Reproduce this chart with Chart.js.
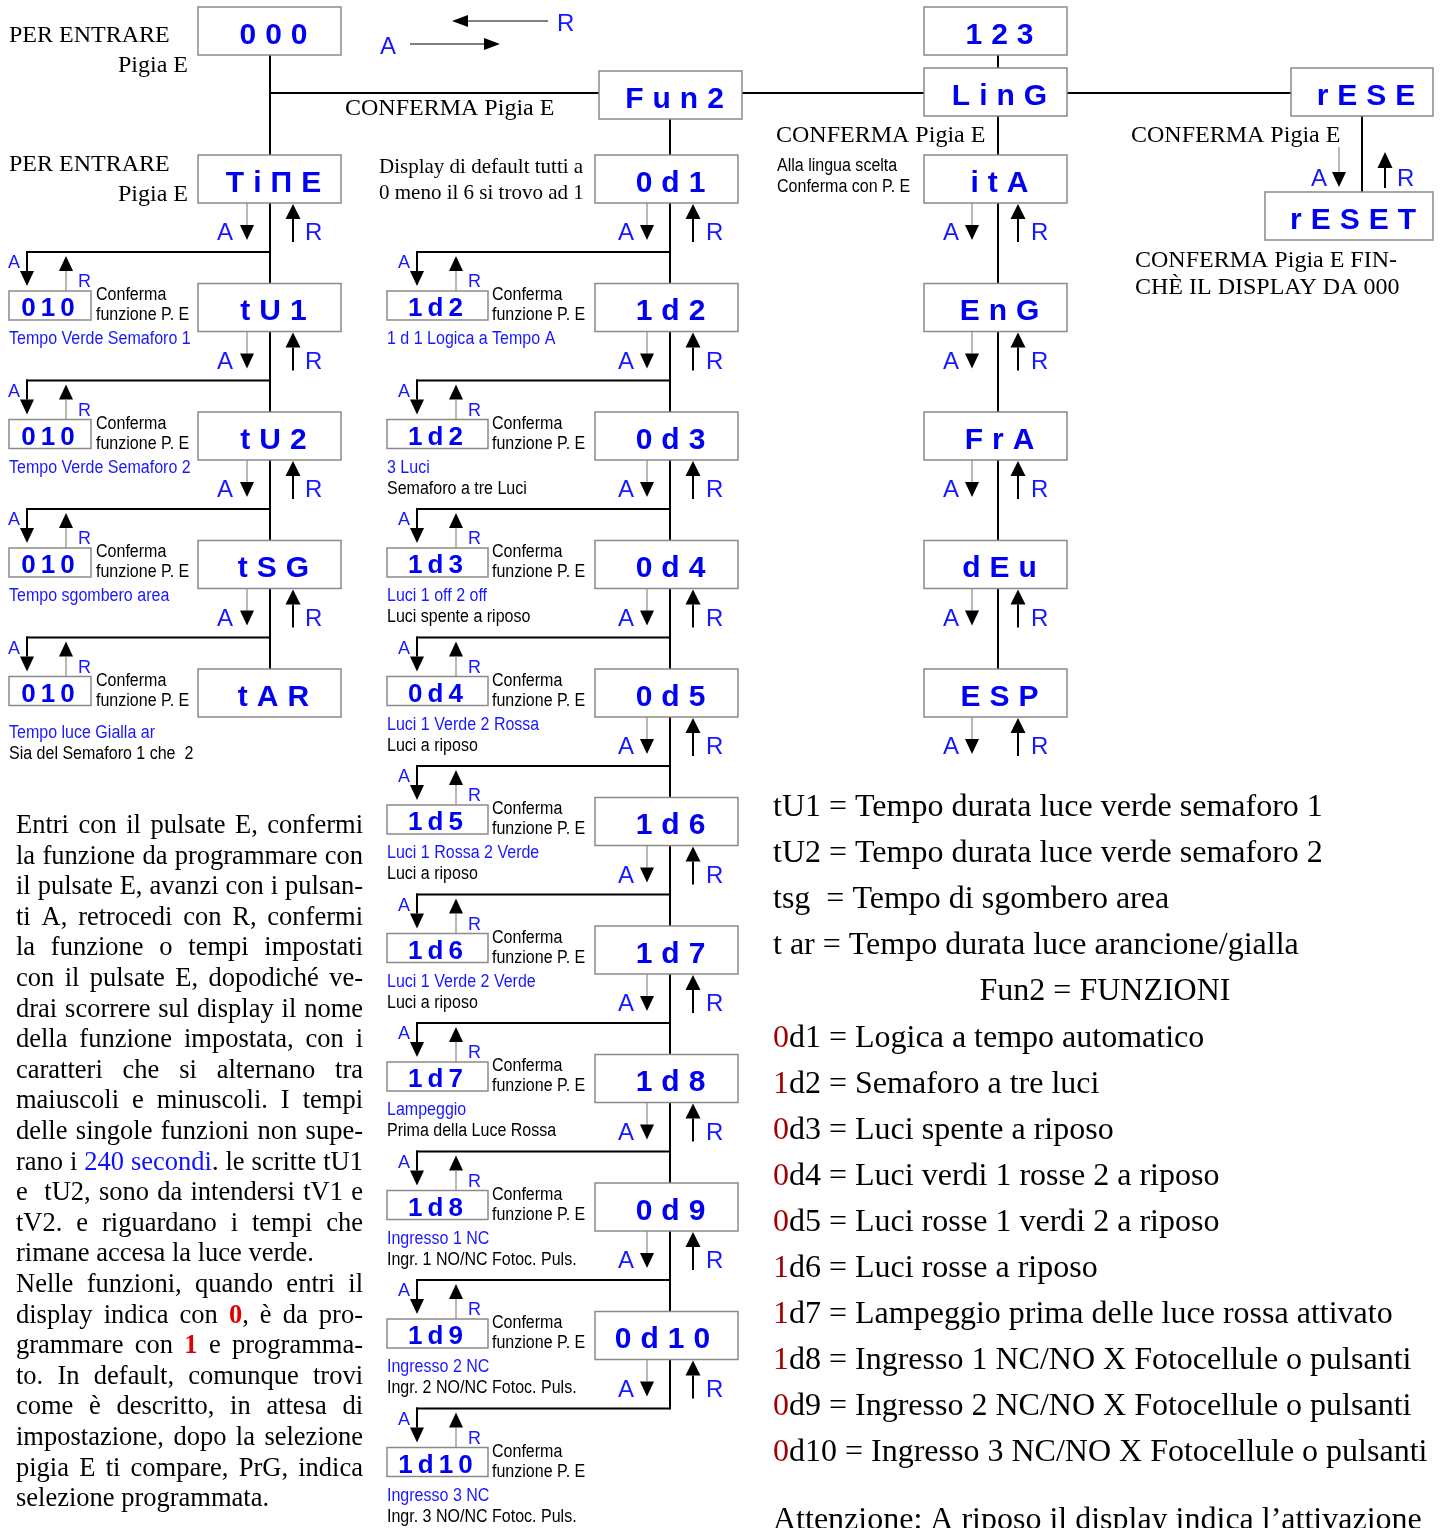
<!DOCTYPE html>
<html><head><meta charset="utf-8">
<script src="https://cdn.jsdelivr.net/npm/chart.js@4"></script>
<style>html,body{margin:0;padding:0;background:#fff}#wrap{width:1442px;height:1528px;position:relative}</style>
</head><body><div id="wrap"><canvas id="c"></canvas></div>
<script>
// ---------- DATA ----------
const mainMenu = ['000', 'Fun2', '123', 'LinG', 'rESE', 'rESET'];
const timeMenu = ['Ti\u03A0E', 'tU1', 'tU2', 'tSG', 'tAR'];
const timeValues = ['010', '010', '010', '010'];
const timeNotesBlue = ['Tempo Verde Semaforo 1', 'Tempo Verde Semaforo 2', 'Tempo sgombero area', 'Tempo luce Gialla ar'];
const timeNotesBlack = ['', '', '', 'Sia del Semaforo 1 che  2'];
const funMenu = ['0d1', '1d2', '0d3', '0d4', '0d5', '1d6', '1d7', '1d8', '0d9', '0d10'];
const funValues = ['1d2', '1d2', '1d3', '0d4', '1d5', '1d6', '1d7', '1d8', '1d9', '1d10'];
const funNotesBlue = ['1 d 1 Logica a Tempo A', '3 Luci', 'Luci 1 off 2 off', 'Luci 1 Verde 2 Rossa', 'Luci 1 Rossa 2 Verde', 'Luci 1 Verde 2 Verde', 'Lampeggio', 'Ingresso 1 NC', 'Ingresso 2 NC', 'Ingresso 3 NC'];
const funNotesBlack = ['', 'Semaforo a tre Luci', 'Luci spente a riposo', 'Luci a riposo', 'Luci a riposo', 'Luci a riposo', 'Prima della Luce Rossa', 'Ingr. 1 NO/NC Fotoc. Puls.', 'Ingr. 2 NO/NC Fotoc. Puls.', 'Ingr. 3 NO/NC Fotoc. Puls.'];
const langMenu = ['itA', 'EnG', 'FrA', 'dEu', 'ESP'];
const confirmLines = ['Conferma', 'funzione P. E'];
const legendPrefix = ['', '', '', '', '', '0', '1', '0', '0', '0', '1', '1', '1', '0', '0'];
const legendText = [
  'tU1 = Tempo durata luce verde semaforo 1',
  'tU2 = Tempo durata luce verde semaforo 2',
  'tsg  = Tempo di sgombero area',
  't ar = Tempo durata luce arancione/gialla',
  'Fun2 = FUNZIONI',
  'd1 = Logica a tempo automatico',
  'd2 = Semaforo a tre luci',
  'd3 = Luci spente a riposo',
  'd4 = Luci verdi 1 rosse 2 a riposo',
  'd5 = Luci rosse 1 verdi 2 a riposo',
  'd6 = Luci rosse a riposo',
  'd7 = Lampeggio prima delle luce rossa attivato',
  'd8 = Ingresso 1 NC/NO X Fotocellule o pulsanti',
  'd9 = Ingresso 2 NC/NO X Fotocellule o pulsanti',
  'd10 = Ingresso 3 NC/NO X Fotocellule o pulsanti'
];
const footNote = 'Attenzione: A riposo il display indica l\u2019attivazione';
// {..} = blue, <..> = red bold ; last line of each paragraph is not justified
const paragraphLines = [
  'Entri con il pulsate E, confermi',
  'la funzione da programmare con',
  'il pulsate E, avanzi con i pulsan-',
  'ti A, retrocedi con R, confermi',
  'la funzione o tempi impostati',
  'con il pulsate E, dopodich\u00e9 ve-',
  'drai scorrere sul display il nome',
  'della funzione impostata, con i',
  'caratteri che si alternano tra',
  'maiuscoli e minuscoli. I tempi',
  'delle singole funzioni non supe-',
  'rano i {240 secondi}. le scritte tU1',
  'e  tU2, sono da intendersi tV1 e',
  'tV2. e riguardano i tempi che',
  'rimane accesa la luce verde.',
  'Nelle funzioni, quando entri il',
  'display indica con <0>, \u00e8 da pro-',
  'grammare con <1> e programma-',
  'to. In default, comunque trovi',
  'come \u00e8 descritto, in attesa di',
  'impostazione, dopo la selezione',
  'pigia E ti compare, PrG, indica',
  'selezione programmata.'
];
const paragraphEnds = [14, 22];
const captions = {
  enter: ['PER ENTRARE', 'Pigia E'],
  confirm: 'CONFERMA Pigia E',
  funDefault: ['Display di default tutti a', '0 meno il 6 si trovo ad 1'],
  lang: ['Alla lingua scelta', 'Conferma con P. E'],
  reset: ['CONFERMA Pigia E FIN-', 'CH\u00c8 IL DISPLAY DA 000']
};

// ---------- LAYOUT ----------
const ROW0 = 155, PITCH = 128.5, BOXH = 48;
const cols = {
  L: {x: 198, w: 143, main: 270, down: 247, up: 293, ax: 217, rx: 305, sx: 9, sw: 82, sd: 27, su: 66, cx: 96},
  M: {x: 595, w: 143, main: 670, down: 647, up: 693, ax: 618, rx: 706, sx: 387, sw: 101, sd: 417, su: 456, cx: 492},
  R: {x: 924, w: 143, main: 998, down: 972, up: 1018, ax: 943, rx: 1031}
};
const SERIF = '"Liberation Serif", "Times New Roman", serif';
const SANS = '"Liberation Sans", Arial, sans-serif';
const BLUE = '#0000f2', LBLUE = '#1818ff', GRAY = '#8a8a8a';

const diagramPlugin = {
  id: 'diagram',
  beforeDraw(chart) {
    const c = chart.ctx;
    c.save(); c.fillStyle = '#fff'; c.fillRect(0, 0, chart.width, chart.height); c.restore();
  },
  afterDraw(chart) {
    const ctx = chart.ctx;
    const sx = chart.scales.x, sy = chart.scales.y;
    const X = v => sx.getPixelForValue(v), Y = v => sy.getPixelForValue(v);
    const line = (x1, y1, x2, y2, col = '#000', w = 2) => {
      ctx.save(); ctx.strokeStyle = col; ctx.lineWidth = w; ctx.beginPath();
      ctx.moveTo(X(x1), Y(y1)); ctx.lineTo(X(x2), Y(y2)); ctx.stroke(); ctx.restore();
    };
    const triV = (x, tip, base, hw) => {
      ctx.save(); ctx.fillStyle = '#000'; ctx.beginPath();
      ctx.moveTo(X(x), Y(tip)); ctx.lineTo(X(x - hw), Y(base)); ctx.lineTo(X(x + hw), Y(base));
      ctx.closePath(); ctx.fill(); ctx.restore();
    };
    const triH = (tip, base, y, hh) => {
      ctx.save(); ctx.fillStyle = '#000'; ctx.beginPath();
      ctx.moveTo(X(tip), Y(y)); ctx.lineTo(X(base), Y(y - hh)); ctx.lineTo(X(base), Y(y + hh));
      ctx.closePath(); ctx.fill(); ctx.restore();
    };
    const text = (s, x, y, font, col = '#000', align = 'left', scaleX = 1) => {
      ctx.save(); ctx.font = font; ctx.fillStyle = col; ctx.textBaseline = 'alphabetic';
      ctx.translate(X(x), Y(y)); ctx.scale(scaleX, 1); ctx.textAlign = align;
      ctx.fillText(s, 0, 0); ctx.restore();
    };
    const narrow = (s, x, y, col = '#000') => text(s, x, y, '18px ' + SANS, col, 'left', 0.89);
    const spaced = (s, cx, y, font, sp, col) => {
      ctx.save(); ctx.font = font; ctx.fillStyle = col; ctx.textBaseline = 'alphabetic';
      const chars = [...s];
      const ws = chars.map(ch => ctx.measureText(ch).width);
      const tot = ws.reduce((a, b) => a + b, 0) + sp * (chars.length - 1);
      let px = X(cx) - tot / 2;
      chars.forEach((ch, i) => { ctx.fillText(ch, px, Y(y)); px += ws[i] + sp; });
      ctx.restore();
    };
    const box = (label, x, y, w, h = BOXH) => {
      ctx.save(); ctx.fillStyle = '#fff'; ctx.strokeStyle = GRAY; ctx.lineWidth = 1.5;
      ctx.fillRect(X(x), Y(y), X(x + w) - X(x), Y(y + h) - Y(y));
      ctx.strokeRect(X(x), Y(y), X(x + w) - X(x), Y(y + h) - Y(y)); ctx.restore();
      const off = [...label].length === 4 && /\d$/.test(label) && /^\d/.test(label) ? -4 : 4;
      spaced(label, x + w / 2 + off, y + 36.5, 'bold 30px ' + SANS, 9, BLUE);
    };
    const smallBox = (label, x, y, w) => {
      ctx.save(); ctx.fillStyle = '#fff'; ctx.strokeStyle = GRAY; ctx.lineWidth = 1.5;
      ctx.fillRect(X(x), Y(y), X(x + w) - X(x), Y(y + 29) - Y(y));
      ctx.strokeRect(X(x), Y(y), X(x + w) - X(x), Y(y + 29) - Y(y)); ctx.restore();
      spaced(label, x + w / 2 - 2, y + 25, 'bold 26px ' + SANS, 5, BLUE);
    };
    const bigArrows = (c, b) => {
      line(c.down, b, c.down, b + 22, GRAY, 1.2);
      triV(c.down, b + 37, b + 22, 7);
      text('A', c.ax, b + 37, '24px ' + SANS, LBLUE);
      triV(c.up, b + 1, b + 16, 7.5);
      line(c.up, b + 16, c.up, b + 39, '#000', 2);
      text('R', c.rx, b + 37, '24px ' + SANS, LBLUE);
    };
    const branch = (c, br, value, blue, black, extra) => {
      line(c.main, br, c.sd - 1, br, '#000', 2);
      line(c.sd, br - 1, c.sd, br + 19, '#000', 2);
      triV(c.sd, br + 34, br + 19, 7);
      text('A', c.sd - 19, br + 16, '18px ' + SANS, LBLUE);
      triV(c.su, br + 4, br + 19, 7);
      line(c.su, br + 19, c.su, br + 39, GRAY, 1.2);
      text('R', c.su + 12, br + 35, '18px ' + SANS, LBLUE);
      smallBox(value, c.sx, br + 39, c.sw);
      narrow(confirmLines[0], c.cx, br + 48);
      narrow(confirmLines[1], c.cx, br + 68);
      if (blue) narrow(blue, c.sx, br + 92 + extra, LBLUE);
      if (black) narrow(black, c.sx, br + 113 + extra, '#000');
    };
    const rowTop = k => ROW0 + PITCH * k;

    // connector lines
    line(270, 93, 1291, 93);
    line(cols.L.main, 55, cols.L.main, rowTop(timeMenu.length - 1));
    line(cols.M.main, 119, cols.M.main, rowTop(funMenu.length - 1) + BOXH + 50);
    line(cols.R.main, 55, cols.R.main, rowTop(langMenu.length - 1));
    line(1362, 116, 1362, 192);

    // top arrows
    line(462, 21, 548, 21, '#000', 1.2); triH(452, 468, 21, 6);
    text('R', 557, 31, '24px ' + SANS, LBLUE);
    text('A', 380, 54, '24px ' + SANS, LBLUE);
    line(410, 44, 490, 44, '#000', 1.2); triH(500, 484, 44, 6);

    // captions
    text(captions.enter[0], 9, 42, '24px ' + SERIF);
    text(captions.enter[1], 188, 72, '24px ' + SERIF, '#000', 'right');
    text(captions.enter[0], 9, 171, '24px ' + SERIF);
    text(captions.enter[1], 188, 201, '24px ' + SERIF, '#000', 'right');
    text(captions.confirm, 345, 115, '24px ' + SERIF);
    text(captions.funDefault[0], 379, 173, '21px ' + SERIF);
    text(captions.funDefault[1], 379, 199, '21px ' + SERIF);
    text(captions.confirm, 776, 142, '24px ' + SERIF);
    narrow(captions.lang[0], 777, 171);
    narrow(captions.lang[1], 777, 192);
    text(captions.confirm, 1131, 142, '24px ' + SERIF);
    text(captions.reset[0], 1135, 267, '24px ' + SERIF);
    text(captions.reset[1], 1135, 294, '24px ' + SERIF);

    // top boxes
    box(mainMenu[0], 198, 7, 143);
    box(mainMenu[1], 599, 71, 143);
    box(mainMenu[2], 924, 7, 143);
    box(mainMenu[3], 924, 68, 143);
    box(mainMenu[4], 1291, 68, 142);
    box(mainMenu[5], 1265, 192, 168);
    // reset arrows
    line(1339, 147, 1339, 172, GRAY, 1.2); triV(1339, 187, 172, 7);
    text('A', 1311, 186, '24px ' + SANS, LBLUE);
    triV(1385, 152, 168, 7.5); line(1385, 168, 1385, 188, '#000', 2);
    text('R', 1397, 186, '24px ' + SANS, LBLUE);

    // time column
    timeMenu.forEach((m, k) => {
      box(m, cols.L.x, rowTop(k), cols.L.w);
      if (k < timeMenu.length - 1) {
        bigArrows(cols.L, rowTop(k) + BOXH);
        branch(cols.L, rowTop(k) + BOXH + 49, timeValues[k], timeNotesBlue[k], timeNotesBlack[k], k === timeMenu.length - 2 ? 8 : 0);
      }
    });
    // function column
    funMenu.forEach((m, k) => {
      box(m, cols.M.x, rowTop(k), cols.M.w);
      bigArrows(cols.M, rowTop(k) + BOXH);
      branch(cols.M, rowTop(k) + BOXH + 49, funValues[k], funNotesBlue[k], funNotesBlack[k], 0);
    });
    // language column
    langMenu.forEach((m, k) => {
      box(m, cols.R.x, rowTop(k), cols.R.w);
      bigArrows(cols.R, rowTop(k) + BOXH);
    });

    // legend
    const LF = '32px ' + SERIF;
    legendText.forEach((t, k) => {
      const y = 816 + 46.1 * k;
      if (k === 4) { text(t, 1105, y, LF, '#000', 'center'); return; }
      let x = 773;
      if (legendPrefix[k]) {
        text(legendPrefix[k], x, y, LF, '#a00000');
        ctx.save(); ctx.font = LF; x += ctx.measureText(legendPrefix[k]).width; ctx.restore();
      }
      text(t, x, y, LF);
    });
    text(footNote, 773, 1529, LF);

    // paragraph (justified)
    const PF = '26.5px ' + SERIF, PFB = 'bold 26.5px ' + SERIF;
    paragraphLines.forEach((ln, i) => {
      const words = [[]]; let style = 'n';
      for (const ch of ln) {
        if (ch === '{') { style = 'b'; continue; }
        if (ch === '}' || ch === '>') { style = 'n'; continue; }
        if (ch === '<') { style = 'r'; continue; }
        if (ch === ' ') { words.push([]); continue; }
        const w = words[words.length - 1];
        if (w.length && w[w.length - 1].s === style) w[w.length - 1].t += ch; else w.push({t: ch, s: style});
      }
      ctx.save();
      const fontOf = s => s === 'r' ? PFB : PF;
      const widthOf = w => w.reduce((a, p) => { ctx.font = fontOf(p.s); return a + ctx.measureText(p.t).width; }, 0);
      const wl = words.map(widthOf);
      ctx.font = PF; const spW = ctx.measureText(' ').width;
      ctx.restore();
      const total = wl.reduce((a, b) => a + b, 0);
      const justify = !paragraphEnds.includes(i);
      const gap = justify ? (347 - total) / (words.length - 1) : spW;
      let x = 16; const y = 833 + 30.6 * i;
      words.forEach((w, j) => {
        let px = x;
        w.forEach(p => {
          const col = p.s === 'b' ? '#1010ff' : p.s === 'r' ? '#e00000' : '#000';
          text(p.t, px, y, fontOf(p.s), col);
          ctx.save(); ctx.font = fontOf(p.s); px += ctx.measureText(p.t).width; ctx.restore();
        });
        x += wl[j] + gap;
      });
    });
  }
};

new Chart(document.getElementById('c'), {
  type: 'scatter',
  data: { datasets: [{ data: [], pointRadius: 0 }] },
  options: {
    responsive: true, maintainAspectRatio: false, animation: false,
    layout: { padding: 0 },
    plugins: { legend: { display: false }, tooltip: { enabled: false } },
    scales: {
      x: { type: 'linear', min: 0, max: 1442, display: false },
      y: { type: 'linear', min: 0, max: 1528, reverse: true, display: false }
    }
  },
  plugins: [diagramPlugin]
});
</script></body></html>
